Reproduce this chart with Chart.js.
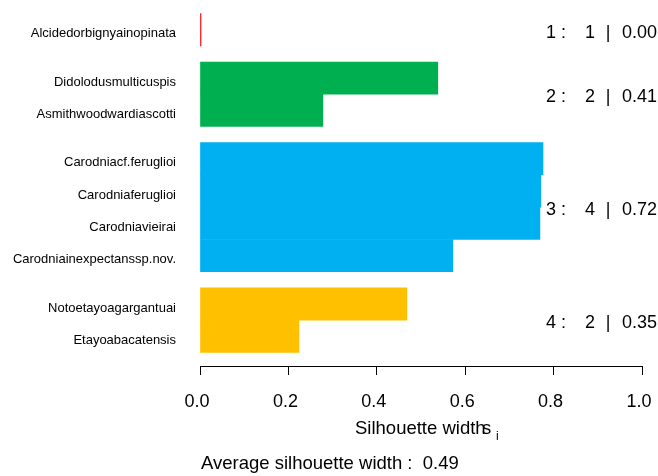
<!DOCTYPE html>
<html>
<head>
<meta charset="utf-8">
<script src="https://cdn.jsdelivr.net/npm/chart.js@4/dist/chart.umd.min.js"></script>
<style>
  html, body { margin: 0; padding: 0; background: #fff; }
  #wrap { width: 658px; height: 476px; position: relative; }
</style>
</head>
<body>
<div id="wrap"><canvas id="c" width="658" height="476"></canvas></div>
<script>
// ---- data ----
const names = [
  'Alcidedorbignyainopinata',
  'Didolodusmulticuspis',
  'Asmithwoodwardiascotti',
  'Carodniacf.feruglioi',
  'Carodniaferuglioi',
  'Carodniavieirai',
  'Carodniainexpectanssp.nov.',
  'Notoetayoagargantuai',
  'Etayoabacatensis'
];
const clusterOf = [1, 2, 2, 3, 3, 3, 3, 4, 4];
const silWidth = [0.00, 0.538, 0.278, 0.776, 0.771, 0.769, 0.572, 0.468, 0.224];
const clusterIds = [1, 2, 3, 4];
const clusterSizes = [1, 2, 4, 2];
const clusterAvg = [0.00, 0.41, 0.72, 0.35];
const averageWidth = 0.49;
const xTicks = [0, 0.2, 0.4, 0.6, 0.8, 1.0];

// ---- styles ----
const palette = { 1: '#FF0000', 2: '#00B050', 3: '#00B0F0', 4: '#FFC000' };
const FONT = '"Liberation Sans", Arial, Helvetica, sans-serif';
const MAIN = 18;
const TITLE = 18.5;

// bar slots: one unit per bar, half unit gap between clusters
const positions = [];
let cursor = 0;
clusterOf.forEach((c, i) => {
  if (i > 0 && c !== clusterOf[i - 1]) cursor += 0.5;
  positions.push(cursor + 0.5);
  cursor += 1;
});
const totalSpan = cursor;
const pad = 0.04 * totalSpan;

const points = silWidth.map((v, i) => ({ x: v, y: positions[i] }));
const colors = clusterOf.map(c => palette[c]);

const textPlugin = {
  id: 'silText',
  afterDraw(chart) {
    const ctx = chart.ctx;
    const ys = chart.scales.y;
    ctx.save();
    ctx.fillStyle = '#000';
    ctx.font = MAIN + 'px ' + FONT;
    ctx.textBaseline = 'middle';
    // cluster summaries
    clusterIds.forEach((cid, k) => {
      const idx = clusterOf.map((c, i) => c === cid ? i : -1).filter(i => i >= 0);
      const mid = idx.reduce((s, i) => s + positions[i], 0) / idx.length;
      const y = ys.getPixelForValue(mid) + 3;
      ctx.textAlign = 'right';
      ctx.fillText(String(cid), 556, y);
      ctx.textAlign = 'left';
      ctx.fillText(':', 561, y);
      ctx.textAlign = 'right';
      ctx.fillText(String(clusterSizes[k]), 595, y);
      ctx.textAlign = 'center';
      ctx.fillText('|', 608, y);
      ctx.textAlign = 'right';
      ctx.fillText(clusterAvg[k].toFixed(2), 657, y);
    });
    // axis title (with the overlapping s_i as in the source)
    ctx.font = TITLE + 'px ' + FONT;
    ctx.textAlign = 'left';
    ctx.fillText('Silhouette width', 355, 429);
    ctx.fillText('s', 482, 429);
    ctx.font = '12px ' + FONT;
    ctx.fillText('i', 496, 437);
    // average
    ctx.font = TITLE + 'px ' + FONT;
    ctx.fillText('Average silhouette width :  ' + averageWidth.toFixed(2), 201, 464);
    ctx.restore();
  }
};

new Chart(document.getElementById('c'), {
  type: 'bar',
  data: {
    datasets: [{
      data: points,
      backgroundColor: colors,
      borderColor: colors,
      borderWidth: 0,
      minBarLength: 1,
      barPercentage: 1,
      categoryPercentage: 1
    }]
  },
  options: {
    indexAxis: 'y',
    responsive: false,
    animation: false,
    devicePixelRatio: 1,
    layout: { padding: { left: 0, right: 16, top: 0, bottom: 0 } },
    plugins: { legend: { display: false }, tooltip: { enabled: false } },
    scales: {
      y: {
        type: 'linear',
        reverse: true,
        offset: false,
        min: -pad,
        max: totalSpan + pad,
        grid: { display: false, offset: false },
        border: { display: false },
        afterBuildTicks(scale) { scale.ticks = positions.map(v => ({ value: v })); },
        afterFit(scale) { scale.width = 200; scale.paddingTop = 0; scale.paddingBottom = 0; },
        ticks: {
          autoSkip: false,
          padding: 16,
          labelOffset: 4,
          color: '#000',
          font: { family: FONT, size: 13 },
          callback: (v, i) => names[i]
        }
      },
      x: {
        type: 'linear',
        position: 'bottom',
        min: 0,
        max: 1,
        afterBuildTicks(scale) { scale.ticks = xTicks.map(v => ({ value: v })); },
        afterFit(scale) { scale.height = 110; scale.paddingLeft = 0; scale.paddingRight = 0; },
        grid: { drawOnChartArea: false, drawTicks: true, tickLength: 9, color: '#000', lineWidth: 1 },
        border: { display: true, color: '#000', width: 1 },
        ticks: {
          padding: 16,
          labelOffset: -3,
          maxRotation: 0,
          color: '#000',
          font: { family: FONT, size: MAIN },
          callback: v => v.toFixed(1)
        }
      }
    }
  },
  plugins: [textPlugin]
});
</script>
</body>
</html>
